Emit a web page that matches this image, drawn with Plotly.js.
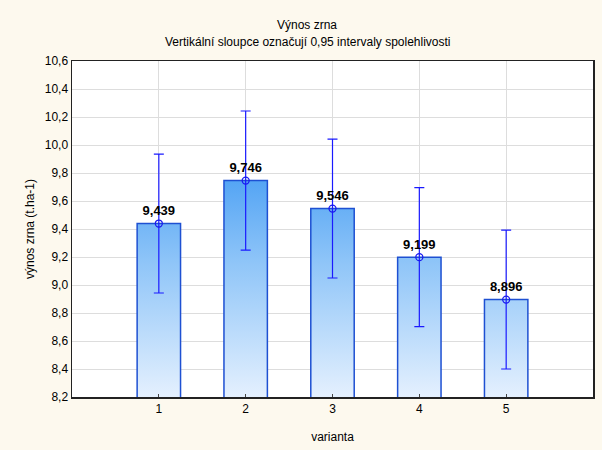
<!DOCTYPE html>
<html>
<head>
<meta charset="utf-8">
<script src="https://cdn.plot.ly/plotly-3.0.1.min.js"></script>
<style>html,body{margin:0;padding:0;background:#FDF9EE;}</style>
</head>
<body>
<div id="chart" style="width:602px;height:450px;"></div>
<script>
const categories = [1, 2, 3, 4, 5];
const means = [9.439, 9.746, 9.546, 9.199, 8.896];
const ciHalf = [0.496, 0.497, 0.496, 0.497, 0.496];
const yTicks = [8.2, 8.4, 8.6, 8.8, 9.0, 9.2, 9.4, 9.6, 9.8, 10.0, 10.2, 10.4, 10.6];
const titleText = 'Výnos zrna';
const subtitleText = 'Vertikální sloupce označují 0,95 intervaly spolehlivosti';

const labels = means.map(v => v.toFixed(3).replace('.', ','));

const barTrace = {
  type: 'bar',
  x: categories,
  y: means,
  width: 0.5,
  marker: { color: '#7DB9F7', line: { color: '#1E50D2', width: 1.5 } },
  hoverinfo: 'skip',
  showlegend: false
};

const pointTrace = {
  type: 'scatter',
  mode: 'markers+text',
  x: categories,
  y: means,
  text: labels,
  textposition: 'top center',
  textfont: { family: 'Liberation Sans, Arial, sans-serif', size: 13, color: '#000', weight: 'bold' },
  marker: { symbol: 'circle-open', size: 7, color: '#1A1AF0', line: { width: 1.3, color: '#1A1AF0' } },
  error_y: { type: 'data', array: ciHalf, visible: true, color: '#1A1AFF', thickness: 1.2, width: 5 },
  showlegend: false,
  cliponaxis: false
};

const layout = {
  width: 602,
  height: 450,
  paper_bgcolor: '#FDF9EE',
  plot_bgcolor: '#FFFFFF',
  separators: ', ',
  margin: { l: 72, r: 9, t: 61, b: 53 },
  font: { family: 'Liberation Sans, Arial, sans-serif', size: 12, color: '#000' },
  annotations: [
    { text: titleText, xref: 'paper', yref: 'paper', x: 0.451, y: 1, yshift: 36, xanchor: 'center', yanchor: 'middle', showarrow: false, font: { size: 12, color: '#000' } },
    { text: subtitleText, xref: 'paper', yref: 'paper', x: 0.453, y: 1, yshift: 19, xanchor: 'center', yanchor: 'middle', showarrow: false, font: { size: 12, color: '#000' } }
  ],
  xaxis: {
    range: [0, 6],
    tickvals: categories,
    ticktext: categories.map(String),
    showgrid: true,
    gridcolor: '#DDDDDD',
    gridwidth: 1,
    zeroline: false,
    showline: true,
    linecolor: '#222',
    linewidth: 1.5,
    mirror: true,
    ticks: 'inside',
    ticklen: 3,
    tickcolor: '#444',
    tickfont: { size: 12 },
    title: { text: 'varianta', font: { size: 12 }, standoff: 17 }
  },
  yaxis: {
    range: [8.2, 10.6],
    tickvals: yTicks,
    tickformat: '.1f',
    showgrid: true,
    gridcolor: '#DDDDDD',
    gridwidth: 1,
    zeroline: false,
    showline: true,
    linecolor: '#222',
    linewidth: 1.5,
    mirror: true,
    ticks: '',
    tickfont: { size: 12 },
    title: { text: 'výnos zrna (t.ha-1)', font: { size: 12 }, standoff: 7 }
  },
  bargap: 0.5
};

Plotly.newPlot('chart', [barTrace, pointTrace], layout, { displayModeBar: false, staticPlot: true }).then(function (gd) {
  const svg = gd.querySelector('svg.main-svg');
  const ns = 'http://www.w3.org/2000/svg';
  let defs = svg.querySelector('defs');
  if (!defs) { defs = document.createElementNS(ns, 'defs'); svg.insertBefore(defs, svg.firstChild); }
  const h = gd._fullLayout._size.h;
  const grad = document.createElementNS(ns, 'linearGradient');
  grad.setAttribute('id', 'barGrad');
  grad.setAttribute('gradientUnits', 'userSpaceOnUse');
  grad.setAttribute('x1', '0'); grad.setAttribute('x2', '0');
  grad.setAttribute('y1', '0'); grad.setAttribute('y2', String(h));
  [[0, '#3F97F0'], [0.35, '#53A4F4'], [0.6, '#8FC5F8'], [1, '#E4F0FE']].forEach(function (s) {
    const st = document.createElementNS(ns, 'stop');
    st.setAttribute('offset', s[0]);
    st.setAttribute('stop-color', s[1]);
    grad.appendChild(st);
  });
  defs.appendChild(grad);
  gd.querySelectorAll('.barlayer .point path').forEach(function (p) {
    p.style.fill = 'url(#barGrad)';
    p.style.fillOpacity = 1;
  });
});
</script>
</body>
</html>
